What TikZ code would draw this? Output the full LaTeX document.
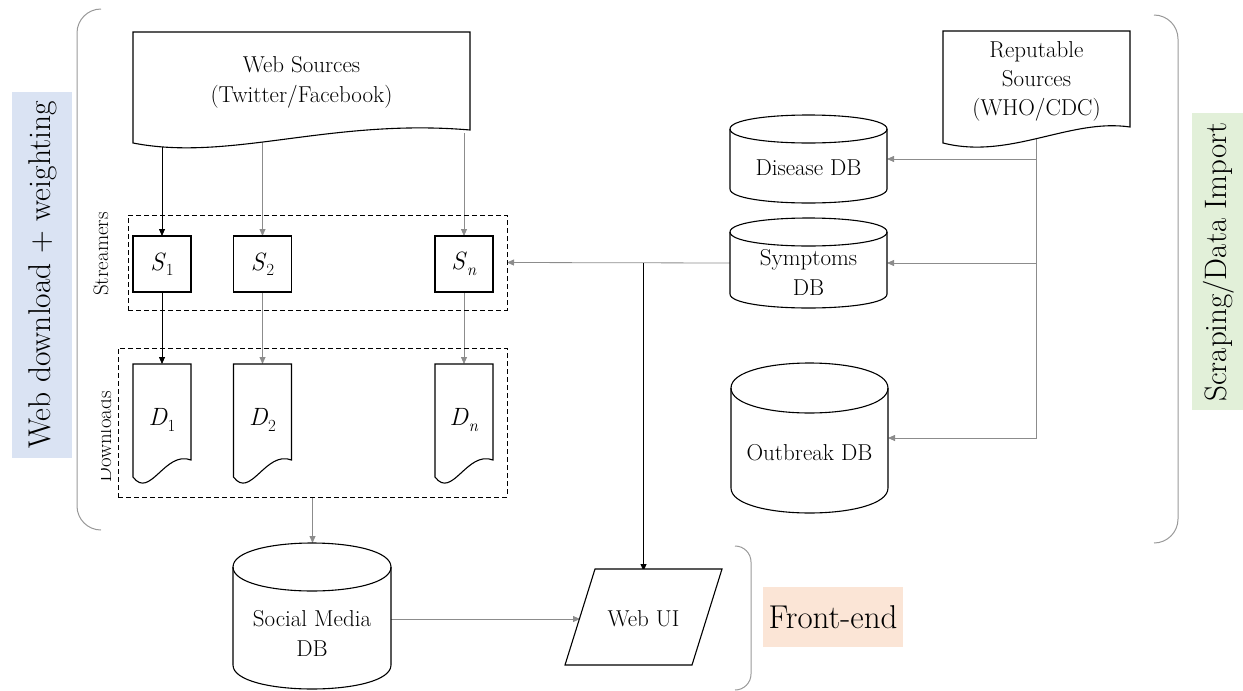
\documentclass[tikz,border=0pt]{standalone}
\usepackage{fontspec}
\usetikzlibrary{arrows.meta}
\pgfdeclarelayer{bg}
\pgfsetlayers{bg,main}
\definecolor{lblue}{HTML}{DAE3F3}
\definecolor{lgreen}{HTML}{E2F0D9}
\definecolor{lorange}{HTML}{FBE5D6}
\definecolor{conn}{HTML}{8C8C8C}
\definecolor{brk}{HTML}{999999}
\newcommand{\vsub}[2]{\textit{#1}\raisebox{-0.22em}{\fontsize{17}{17}\selectfont #2}}
\tikzset{
  shapeline/.style={draw=black, line width=1.1pt, fill=white},
  anchorbox/.style={inner sep=0pt, outer sep=0pt},
  sbox/.style={shapeline, anchorbox, minimum width=58pt, minimum height=56pt, font=\fontsize{25}{28}\selectfont},
  txt/.style={font=\fontsize{23}{30}\selectfont, align=center, inner sep=0pt, outer sep=0pt},
  reptxt/.style={font=\fontsize{23}{29}\selectfont, align=center, inner sep=0pt, outer sep=0pt},
  bigtxt/.style={font=\fontsize{33}{38}\selectfont, inner sep=0pt},
  sidetxt/.style={font=\fontsize{21}{24}\selectfont, inner sep=0pt, rotate=90},
  dashbox/.style={draw=black, line width=0.9pt, dash pattern=on 5pt off 3pt, anchorbox},
  arr/.style={-{Triangle[length=7pt,width=6pt]}, line width=0.8pt, draw=conn},
  arrk/.style={arr, draw=black},
  bracket/.style={draw=brk, line width=1pt, rounded corners=24pt},
}
% cylinder outline: L R T B r
\newcommand{\cylpath}[5]{%
  \draw[shapeline] (#1,#3+#5) -- (#1,#4-#5)
    .. controls (#1,#4-#5+1.333*#5) and (#2,#4-#5+1.333*#5) .. (#2,#4-#5)
    -- (#2,#3+#5)
    .. controls (#2,#3+#5-1.333*#5) and (#1,#3+#5-1.333*#5) .. (#1,#3+#5) -- cycle;
  \draw[line width=1.1pt] (#1,#3+#5) .. controls (#1,#3+#5+1.333*#5) and (#2,#3+#5+1.333*#5) .. (#2,#3+#5);}
\begin{document}
\begin{tikzpicture}[x=1pt,y=-1pt]
\useasboundingbox (0,0) rectangle (1243,691);

% side labels
\fill[lblue] (12,92) rectangle (72,458);
\node[bigtxt, rotate=90, font=\fontsize{31.5}{36}\selectfont] (lblweb) at (43,275) {Web download + weighting};
\fill[lgreen] (1192,113) rectangle (1243,410);
\node[bigtxt, rotate=90, font=\fontsize{31}{36}\selectfont] (lblscr) at (1219,262) {Scraping/Data Import};
\fill[lorange] (763,587) rectangle (903,647);
\node[bigtxt] (lblfront) at (833,617) {Front-end};

% brackets
\draw[bracket] (101,9) -- (77,9) -- (77,530) -- (101,530);
\draw[bracket] (1154,15) -- (1178,15) -- (1178,543) -- (1154,543);
\draw[bracket, rounded corners=16pt] (735,546) -- (751,546) -- (751,690) -- (735,690);

% web sources document
\draw[shapeline] (133,32) -- (470,32) -- (470,130) .. controls (330,118) and (230,162) .. (133,143) -- cycle;
\node[txt, minimum width=337pt, minimum height=101pt] (websrc) at (301.5,82.5) {Web Sources\\(Twitter/Facebook)};

% reputable sources document
\draw[shapeline] (943,31) -- (1130,31) -- (1130,127) .. controls (1070,118) and (1010,160) .. (943,143) -- cycle;
\node[reptxt, minimum width=187pt, minimum height=100pt] (repsrc) at (1036.5,81) {Reputable\\Sources\\(WHO/CDC)};

% dashed group boxes
\node[dashbox, minimum width=379pt, minimum height=95pt] (streamers) at (317.5,262.5) {};
\node[dashbox, minimum width=389pt, minimum height=149pt] (downloads) at (312.5,422.5) {};
\begin{scope}
  \clip (80,200) rectangle (125,294);
  \node[sidetxt] (lblstr) at (101,254) {Streamers};
\end{scope}
\begin{scope}
  \clip (101,340) rectangle (125,500);
  \node[sidetxt] (lbldl) at (104,437) {Downloads};
\end{scope}

% streamers and downloads
\foreach \n/\x/\s in {1/162/1, 2/262.5/2, n/464/\textit{n}} {
  \node[sbox] (S\n) at (\x,264) {\vsub{S}{\s}};
  \draw[shapeline] (\x-29,364) -- (\x+29,364) -- (\x+29,460)
     .. controls (\x+3,450) and (\x-12,500) .. (\x-29,477) -- cycle;
  \node[anchorbox, minimum width=58pt, minimum height=112pt, font=\fontsize{25}{28}\selectfont] (D\n) at (\x,420) {\vsub{D}{\s}};
}

% databases
\cylpath{730}{887}{115}{203}{14}
\node[anchorbox, minimum width=157pt, minimum height=88pt] (disease) at (808.5,159) {};
\node[txt] (diseaset) at (808.5,168) {Disease DB};

\cylpath{730}{887}{218}{308}{14}
\node[anchorbox, minimum width=157pt, minimum height=90pt] (symptoms) at (808.5,263) {};
\node[txt] (symptomst) at (808.5,272.5) {Symptoms\\DB};

\cylpath{731}{888}{363}{513}{25}
\node[anchorbox, minimum width=157pt, minimum height=150pt] (outbreak) at (809.5,438) {};
\node[txt] (outbreakt) at (809.5,453) {Outbreak DB};

\cylpath{233}{391}{543}{689}{24}
\node[anchorbox, minimum width=158pt, minimum height=146pt] (social) at (312,616) {};
\node[txt] (socialt) at (312,633) {Social Media\\DB};

% web UI
\draw[shapeline] (595,569) -- (722,569) -- (692,665) -- (565,665) -- cycle;
\node[txt, minimum width=127pt, minimum height=96pt] (webui) at (643.5,619) {Web UI};

% connectors
\begin{pgfonlayer}{bg}
  \draw[arrk] (S1.north |- websrc.south) -- (S1.north);
  \draw[arr] (S2.north |- websrc.south) -- (S2.north);
  \draw[arr] (Sn.north |- websrc.south) -- (Sn.north);
  \draw[arrk] (S1.south) -- (D1.north);
  \draw[arr] (S2.south) -- (D2.north);
  \draw[arr] (Sn.south) -- (Dn.north);
  \draw[arr] (downloads.south) -- (downloads.south |- social.north);
  \draw[arr] (repsrc.south) |- (outbreak.east);
  \draw[arr] (repsrc.south |- disease.east) -- (disease.east);
  \draw[arr] (repsrc.south |- symptoms.east) -- (symptoms.east);
  \draw[arr] (symptoms.west) -- (streamers.east);
  \coordinate (junc) at (webui.north |- symptoms.west);
  \draw[arrk] (junc) -- (webui.north);
  \draw[arr] (social.east |- webui.west) -- (webui.west);
\end{pgfonlayer}
\end{tikzpicture}
\end{document}
